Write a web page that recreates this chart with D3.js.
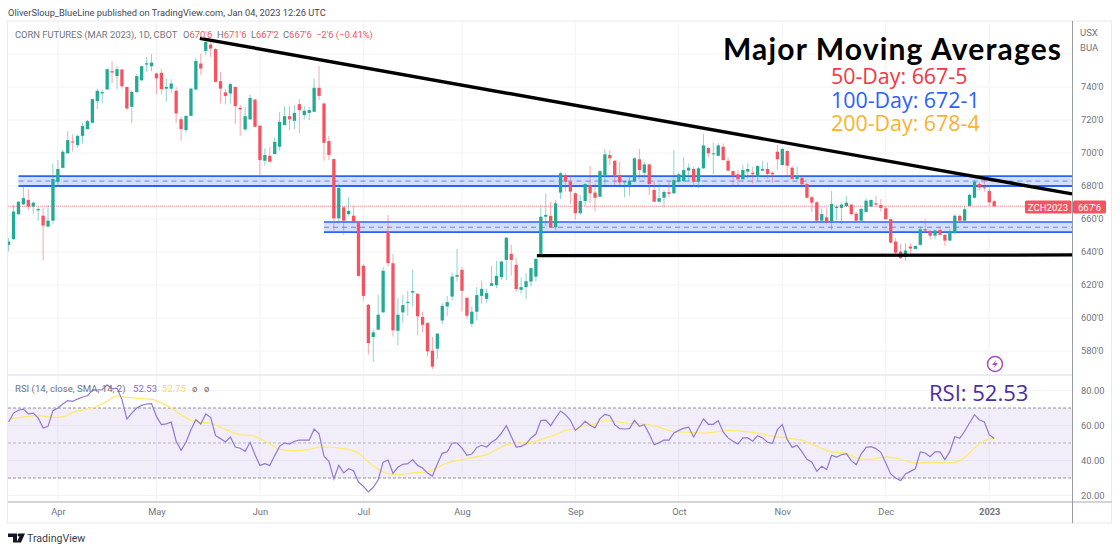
<!DOCTYPE html>
<html>
<head>
<meta charset="utf-8">
<script src="https://cdn.jsdelivr.net/npm/d3@7"></script>
<style>
    html, body { margin: 0; padding: 0; background: #fff; }
    svg { display: block; }
    text { font-family: Roboto, "Noto Sans", sans-serif; }
    .note { font-family: "Open Sans", sans-serif; }
    .title { font-family: Lato, sans-serif; letter-spacing: 1.15px; }
    .axis text { fill: #6f7380; font-size: 9.3px; font-family: Roboto, sans-serif; }
</style>
</head>
<body>
<svg id="chart" width="1120" height="552"></svg>
<script>
// candles, one per trading day
var opens = [644.3,647.8,662.9,668.9,671.5,667.5,665.3,662,655.4,659,682.6,691,699.8,707,704.8,710.4,714.5,718.3,731.4,736.1,
    738.5,749.6,746.6,750.6,740,728,736.9,744.1,753.6,752.6,748.2,748.6,739,739,737.7,720.5,713.9,722.5,738.5,754.2,
    761.9,765.7,763,743.5,736.7,736.1,740,727.4,714.3,720.4,732.4,716.5,695.3,698.3,699.4,703.8,716.9,722.3,719.5,729.6,
    723,724.3,725,739.5,730,707.2,696.3,660.4,667.1,663,662,658.4,631.6,608,588.5,592.9,603.4,652.4,633.2,592.3,
    603.4,609.2,615.4,614.7,600.6,596.9,580.2,581.4,598.5,607,613,625,629.2,612.2,596.5,603.8,613.4,611.6,619.5,619.9,
    624.8,635.2,638.9,632.2,617.1,618.7,622.1,625.1,638.9,661.4,661.9,655,676,686.2,682.6,675.6,663.5,670.9,680.6,676,
    673.5,686.7,698.8,695.3,686.7,682.2,680.2,682.6,696.2,688,693.1,677.6,670.5,672.9,676.2,675.6,682.6,683,689.3,690.3,
    682.6,690.7,703,699.2,698.3,703.8,695.3,689,687.1,684.1,688.7,688,685.6,689.3,690.3,688,700.8,692.7,701.2,691.1,
    684.2,685,681.2,673.2,670.1,659,661,658.4,666.7,666.7,667.7,668.7,663.2,659,664.3,667.5,669.5,668.5,666.5,659.9,
    646.3,640.3,636.9,643.3,641.9,644.3,653.8,652.8,649.9,653.4,650.4,646.9,651.4,661.9,659,667.9,672.9,681.2,679.2,677,
    670.75];
var highs = [648.4,668.5,670.8,680,678,670.5,667.5,666.7,668.5,693.7,695.7,702,713.3,711.3,711,718,720,733,739,738.5,
    751.2,755.6,752.6,751,740.3,737.5,747.8,753,758.2,759.9,748.6,751,745.2,744.7,739.7,722,722.8,739.5,757.9,760.3,
    769.3,767.5,763.4,749.2,739,742.5,740.4,729,727.8,735.5,732.7,716.9,702.8,703.8,709.5,725,728.4,728.4,729,732.6,
    728.4,728,745.2,752.8,730.6,710.3,696.7,681.6,667.5,673.2,668,658.8,632.8,608.5,592.9,614,630.8,662.4,638.7,612,
    614,616.5,629.2,615,603.6,597.5,588.5,590.9,609,613.4,627.5,641.9,630.8,612.6,607,618.7,622.7,617.7,631.6,634.6,
    634.6,649,644.3,636.3,624.5,627.2,630.6,636.2,668.5,675.6,670.5,671.5,688.5,687.7,686,676,674.6,681.6,692.1,681.6,
    689.6,702.4,701.8,695.7,694.7,683.2,686.7,697.4,702.4,694.7,693.4,683,681.6,677.6,682.6,701.8,688,697.4,693.7,691.7,
    691.7,711.5,703.5,706.4,706,705.8,697.4,689.7,689.7,692.7,693.9,691.7,692.7,695.3,694.3,689,704.8,703,702,692,
    692,686.5,682,674,671,666.5,666.5,677,668.5,670,674,669.2,664.5,666.6,672.6,672,674,672,667.9,660.3,
    648.4,644.9,645.3,645.3,643.9,655.4,659.8,653.4,653.6,655.4,650.9,653.8,662.8,662.8,667.9,675.2,683.4,682,685,680.6,
    671.75];
var lows = [640.3,647.3,662.5,668.5,665.5,663,659,634.8,655,656.8,679.6,691,699.8,700.8,703.2,705.8,714.5,718.3,726.6,730,
    738.2,742.3,738.7,739,726,718.3,736.5,743.5,749.2,749.6,735.7,735.5,731,736.3,718.3,707.4,712.2,722.2,738.2,747.2,
    759.3,758.2,742.8,730,729.4,730,717.5,710.4,713.5,720,715.5,686.7,692.3,694.3,699.2,701.4,716.7,713.9,714.3,711.9,
    720.4,720,724.8,732,695.3,695.7,651.4,657.4,650.4,661.4,657.6,625.3,610.6,577.8,573.3,592.7,603.2,631.2,588.8,583.4,
    597,601.5,607,589.4,591.2,576.7,569,575.3,596.3,601.3,610.6,622.1,604,599.4,594.7,598.5,608.6,609,619.3,618.1,
    623.1,623.1,625.7,615.7,614.7,611.4,619.1,622.1,638.6,655.8,654.8,653,672,676.6,669.1,659.8,662.5,667.9,669.5,664.5,
    673.2,680.6,692.7,680.6,680.6,673.2,674,682.2,684,684.7,674.6,670.3,670.2,667.1,673.2,675.3,682.2,682.6,683,679.6,
    679,690.3,697.4,687.1,698,695.5,689,680.2,680.2,683.6,684.7,681.6,683.2,689.2,684.7,682,689.7,692.5,685.3,684,
    684,680.6,672.4,664,658.6,658.7,656.8,653.4,659.4,657,667.4,662.5,658.6,658.6,664,667,668.2,664.5,659.5,645.3,
    638.8,635.7,634.6,637.2,641.5,643.9,651.7,647.8,647.8,650,643.7,646.7,651,658.6,658.6,667.5,672.5,677.2,676.6,667.9,
    667.25];
var closes = [646.3,664.5,670.5,672.6,667.5,669.9,666.1,656,659,684.2,690.3,700.8,707.8,706.6,710.4,716.3,719.3,732.6,737.7,736.9,
    750.8,748.8,750.8,740.5,727,737,746.6,752.6,754.4,754.8,745.2,738.7,740,742.1,724,714.5,722.5,739,755.8,751.2,
    767.3,763.3,743.1,739,734.6,741.7,728.4,726.4,722.3,733.4,715.9,695.7,698.8,694.7,706.8,718.9,722.3,720.4,724.3,726,
    725.6,726,739.5,734.6,706.2,698.8,660.4,678.8,659,664.9,658.4,625.5,613.4,584.8,591.3,602,628.6,633.2,592.5,602,
    607.8,609.8,616.3,601,595.9,579.8,570.5,590.5,607.4,609.6,625.1,626,616.5,601.4,603.8,613.9,617.7,615.1,621.1,625.5,
    634.2,648.7,635.2,617.5,618.7,622.3,630.2,635.8,661.4,662.5,655,669.5,687.7,682.6,676.6,663.5,670.9,681.2,675.6,672.9,
    689,699.2,696.8,686.7,682.2,683,683.2,696.8,689.7,693.1,681.2,670.5,672.6,676.4,675.3,683.6,687.1,689.7,691.1,682.6,
    690.7,704.6,699.8,699.8,704.6,695.7,689.3,686.2,684.1,689.7,690.3,687.1,692.1,690.3,687.3,687.1,696.2,702.4,692.3,684.2,
    686,681,672.9,669.9,659,663,658,669.1,667.5,668.7,669.9,662.9,659,666.1,671.1,671.5,668.7,666.7,659.9,645.7,
    639.6,636.3,640.9,642.1,643.7,653.8,653,649.9,653,650.4,646.9,652.4,662,659,665.9,674.6,682.6,679,678.6,670.1,
    667.75];

// rsi, same days as the candles
var rsiValues = [62,67.1,68.7,69.4,66.6,67.1,64.3,58.6,59.5,68.5,70,72.3,74.2,73.8,75.1,76.3,77,80.1,80.3,80.5,
    83.3,81,81.4,74.8,63.7,67.1,70,71.5,72.3,72.5,65.2,60.5,60.9,62,51,45.8,50.4,57.6,63.3,60.9,
    66.6,64.7,54.2,52.5,50.6,53.4,47.7,47,45.2,50.4,43.3,37.2,38.2,37.2,42.8,48.1,50,49.4,51,51.7,
    51.7,51.7,58,55.3,42.4,39.5,29.4,37.2,32.9,35.3,34.2,27.7,25.2,22,24.7,29,39.1,40.3,32.7,36.1,
    37.8,38.2,40.5,37.2,35.7,32.9,31.1,38,44.1,45,50,50,47.1,43,43.7,47.5,48.7,47.7,50.4,52.3,
    55.7,59.9,53.8,47.7,48.1,49.4,52.9,55.1,62.8,63.1,59.9,64.3,68.3,66.2,63,57.2,59.5,62.4,60.1,58.6,
    63.9,66.4,65.6,60.5,58.2,58,58.2,63,59.5,60.5,55.1,49,50.2,51.7,51.7,55.7,57.2,58.4,59.1,53.4,
    58.6,63.7,60.7,60.7,62.8,56.3,52.9,51,49.4,52.9,52.9,51,54.2,52.9,50.4,49.8,57.6,60.5,51.9,47.5,
    48.7,44.9,40.7,39,33.8,36.7,34.8,43,42,43.3,43.9,39.9,37.6,43.7,47.5,47.9,46.8,44.7,38.6,32.3,
    30,28.5,32.3,33.8,35.3,44.9,44.3,42.2,45,44.9,40.5,45.2,53.6,52.7,56.7,61.4,66.2,63.1,62,54.8,
    52.53];

// rsi moving average, read at the days where it bends
var smaDays = [0,3,6,9,11,13,16,18,20,22,24,27,29,31,33,35,37,39,41,43,45,47,49,51,53,55,58,61,63,65,68,71,73,75,77,79,82,85,87,89,
    92,95,97,99,101,103,105,107,109,111,113,115,117,119,121,123,126,129,132,135,138,141,144,146,149,152,155,158,161,164,167,170,172,175,178,180,183,185,187,190,
    192,194,196,198,200];
var smaValues = [63.3,64.9,65.6,64.7,65,67.5,69.4,71,73.8,76.9,76.1,75.3,75,72.9,70,66.2,63,61.8,61.2,59,56.7,54.6,54.4,52.5,49.4,46.4,45.6,46.2,47.7,47.7,46.8,44.3,39.1,35.1,32.5,31.9,32.9,33.6,36.1,38.6,
    40.5,42,43.3,46.2,49,49.8,50,51,52.9,54.8,57.4,58,59.9,61,62.8,62.4,61.2,60.9,59,56.5,56.1,55.7,56.5,57.2,56.7,55.7,53.8,52.9,51.5,48.1,45,44.1,41.4,40.7,42,41.4,39.1,38.6,39.1,38.6,
    39,41.8,47.1,51.3,52.75];

var monthDays = [10,30,51,72,92,115,136,157,178,199];
var monthLabels = ["Apr","May","Jun","Jul","Aug","Sep","Oct","Nov","Dec","2023"];
var priceTicks = [580,600,620,640,660,680,700,720,740];
var gridPrices = priceTicks.concat([760]);
var rsiTicks = [20,40,60,80];

// drawings on the chart, in day / price terms
var lastDay = 215.8;
var bandDays = [2, 64];
var bandTops = [686, 658.2];
var bandMids = [683, 655];
var bandBottoms = [680, 652.1];
var trendDays = [38.8, lastDay];
var trendPrices = [769.5, 675.2];
var supportDays = [107.2, lastDay];
var supportPrices = [637.8, 638.2];
var lastPrice = 667.75;

var notes = [
    ["50-Day: 667-5", "#f23645"],
    ["100-Day: 672-1", "#2962ff"],
    ["200-Day: 678-4", "#f9b32b"]
];

var green = "#22ab94", red = "#f7525f", grayText = "#6f7380";
var left = 8, right = 1072.5, outerRight = 1112;
var top1 = 21, bottom1 = 375, bottom2 = 502, bottom3 = 523;

var svg = d3.select("#chart");

var x = d3.scaleLinear().domain([0, 200]).range([8.6, 994.2]);
var y = d3.scaleLinear().domain([580, 740]).range([351, 87]);
var yRsi = d3.scaleLinear().domain([20, 80]).range([495.5, 390.5]);

var days = d3.range(opens.length);

// grid
var grid = svg.append("g").attr("stroke", "#f2f3f8").attr("stroke-width", 1);
grid.selectAll("line.v").data(monthDays).enter().append("line").attr("class", "v")
    .attr("x1", function (d) { return x(d); }).attr("x2", function (d) { return x(d); })
    .attr("y1", top1).attr("y2", bottom2);
grid.selectAll("line.p").data(gridPrices).enter().append("line").attr("class", "p")
    .attr("x1", left).attr("x2", right)
    .attr("y1", function (d) { return y(d); }).attr("y2", function (d) { return y(d); });

// rsi band under the grid lines of the lower pane
svg.append("rect")
    .attr("x", left).attr("width", right - left)
    .attr("y", yRsi(70)).attr("height", yRsi(30) - yRsi(70))
    .attr("fill", "#7e57c2").attr("fill-opacity", 0.1);
grid.selectAll("line.r").data(rsiTicks).enter().append("line").attr("class", "r")
    .attr("x1", left).attr("x2", right)
    .attr("y1", function (d) { return yRsi(d); }).attr("y2", function (d) { return yRsi(d); });

[70, 50, 30].forEach(function (level) {
    svg.append("line")
        .attr("x1", left).attr("x2", right)
        .attr("y1", yRsi(level)).attr("y2", yRsi(level))
        .attr("stroke", "#787b86").attr("stroke-opacity", level == 50 ? 0.5 : 0.8)
        .attr("stroke-dasharray", "3,2");
});

// blue zones
var zones = svg.append("g");
bandDays.forEach(function (d, i) {
    var x0 = x(d), x1 = x(lastDay);
    zones.append("rect").attr("x", x0).attr("width", x1 - x0)
        .attr("y", y(bandTops[i])).attr("height", y(bandBottoms[i]) - y(bandTops[i]))
        .attr("fill", "#2962ff").attr("fill-opacity", 0.2);
    zones.append("line").attr("x1", x0).attr("x2", x1)
        .attr("y1", y(bandTops[i])).attr("y2", y(bandTops[i]))
        .attr("stroke", "#2962ff").attr("stroke-width", 1.6);
    zones.append("line").attr("x1", x0).attr("x2", x1)
        .attr("y1", y(bandBottoms[i])).attr("y2", y(bandBottoms[i]))
        .attr("stroke", "#2962ff").attr("stroke-width", 1.8);
    zones.append("line").attr("x1", x0).attr("x2", x1)
        .attr("y1", y(bandMids[i])).attr("y2", y(bandMids[i]))
        .attr("stroke", "#2962ff").attr("stroke-opacity", 0.7).attr("stroke-dasharray", "5,4");
});

// last price line
svg.append("line")
    .attr("x1", left).attr("x2", right)
    .attr("y1", y(lastPrice)).attr("y2", y(lastPrice))
    .attr("stroke", red).attr("stroke-opacity", 0.7).attr("stroke-dasharray", "1,1");

// candles
var candles = svg.append("g");
candles.selectAll("line").data(days).enter().append("line")
    .attr("x1", function (i) { return x(i); }).attr("x2", function (i) { return x(i); })
    .attr("y1", function (i) { return y(highs[i]); }).attr("y2", function (i) { return y(lows[i]); })
    .attr("stroke", function (i) { return closes[i] >= opens[i] ? green : red; })
    .attr("stroke-opacity", 0.5).attr("stroke-width", 1);
candles.selectAll("rect").data(days).enter().append("rect")
    .attr("x", function (i) { return x(i) - 1.65; }).attr("width", 3.3)
    .attr("y", function (i) { return y(Math.max(opens[i], closes[i])); })
    .attr("height", function (i) { return Math.max(1, Math.abs(y(opens[i]) - y(closes[i]))); })
    .attr("fill", function (i) { return closes[i] >= opens[i] ? green : red; });

// black trend lines
var drawLine = d3.line()
    .x(function (d) { return x(d[0]); })
    .y(function (d) { return y(d[1]); });
svg.append("path").attr("d", drawLine(d3.zip(trendDays, trendPrices)))
    .attr("fill", "none").attr("stroke", "#000").attr("stroke-width", 3.4);
svg.append("path").attr("d", drawLine(d3.zip(supportDays, supportPrices)))
    .attr("fill", "none").attr("stroke", "#000").attr("stroke-width", 3.2);

// rsi lines
var smaLine = d3.line()
    .x(function (d) { return x(d[0]); })
    .y(function (d) { return yRsi(d[1]); })
    .curve(d3.curveMonotoneX);
svg.append("path").attr("d", smaLine(d3.zip(smaDays, smaValues)))
    .attr("fill", "none").attr("stroke", "#ffeb6b").attr("stroke-width", 1.3);
var rsiLine = d3.line()
    .x(function (i) { return x(i); })
    .y(function (i) { return yRsi(rsiValues[i]); });
svg.append("path").attr("d", rsiLine(days))
    .attr("fill", "none").attr("stroke", "#9378cf").attr("stroke-width", 1.2);

// pane frame
var frame = svg.append("g").attr("fill", "none");
frame.append("rect").attr("x", left - 0.5).attr("y", top1).attr("width", outerRight - left).attr("height", bottom3 - top1)
    .attr("stroke", "#e9eaf2").attr("stroke-width", 1);
frame.append("line").attr("x1", left).attr("x2", right).attr("y1", bottom1).attr("y2", bottom1)
    .attr("stroke", "#e6e7ee").attr("stroke-width", 1.5);
frame.append("line").attr("x1", left).attr("x2", outerRight).attr("y1", bottom2).attr("y2", bottom2)
    .attr("stroke", "#c4c5cb").attr("stroke-width", 1.5);
frame.append("line").attr("x1", right).attr("x2", right).attr("y1", top1).attr("y2", bottom3)
    .attr("stroke", "#9a9ca5").attr("stroke-width", 1);

// axes
var timeAxis = svg.append("g").attr("class", "axis")
    .attr("transform", "translate(0," + (bottom2 + 3) + ")")
    .call(d3.axisBottom(x).tickValues(monthDays).tickSize(0)
        .tickFormat(function (d, i) { return monthLabels[i]; }));
timeAxis.select(".domain").remove();
timeAxis.selectAll("text").attr("font-weight", function (d, i) { return monthLabels[i] == "2023" ? 700 : 400; });

var priceAxis = svg.append("g").attr("class", "axis")
    .attr("transform", "translate(" + (right + 5.5) + ",0)")
    .call(d3.axisRight(y).tickValues(priceTicks).tickSize(0)
        .tickFormat(function (d) { return d + "'0"; }));
priceAxis.select(".domain").remove();

var rsiAxis = svg.append("g").attr("class", "axis")
    .attr("transform", "translate(" + (right + 5.5) + ",0)")
    .call(d3.axisRight(yRsi).tickValues(rsiTicks).tickSize(0)
        .tickFormat(d3.format(".2f")));
rsiAxis.select(".domain").remove();

// currency box at the top of the scale
svg.append("text").attr("x", 1080).attr("y", 35.5).attr("fill", grayText).attr("font-size", 9.5).text("USX");
svg.append("text").attr("x", 1080).attr("y", 51).attr("fill", grayText).attr("font-size", 9.5).text("BUA");

// last price labels
svg.append("rect").attr("x", 1025).attr("y", 200.5).attr("width", 46.5).attr("height", 13).attr("rx", 1.5).attr("fill", red);
svg.append("text").attr("x", 1048).attr("y", 210.5).attr("text-anchor", "middle").attr("fill", "#fff").attr("font-size", 9.6).text("ZCH2023");
svg.append("rect").attr("x", right + 0.5).attr("y", 200.5).attr("width", 33).attr("height", 13).attr("rx", 1.5).attr("fill", red);
svg.append("text").attr("x", right + 17).attr("y", 210.5).attr("text-anchor", "middle").attr("fill", "#fff").attr("font-size", 9.6).text("667'6");

// header
svg.append("text").attr("x", 8).attr("y", 16).attr("fill", "#444751").attr("font-size", 9.3)
    .text("OliverSloup_BlueLine published on TradingView.com, Jan 04, 2023 12:26 UTC");
svg.append("text").attr("x", 15).attr("y", 37.5).attr("fill", grayText).attr("font-size", 9.4)
    .text("CORN FUTURES (MAR 2023), 1D, CBOT");

var ohlc = [["O", "670'6", 183], ["H", "671'6", 217], ["L", "667'2", 251], ["C", "667'6", 283]];
ohlc.forEach(function (d) {
    var t = svg.append("text").attr("x", d[2]).attr("y", 37.5).attr("font-size", 9.4);
    t.append("tspan").attr("fill", grayText).text(d[0]);
    t.append("tspan").attr("fill", red).text(d[1]);
});
svg.append("text").attr("x", 316).attr("y", 37.5).attr("fill", red).attr("font-size", 9.4).text("\u22122'6 (\u22120.41%)");

// rsi legend
svg.append("text").attr("x", 15).attr("y", 391.5).attr("fill", grayText).attr("font-size", 9.6).text("RSI (14, close, SMA, 14, 2)");
svg.append("text").attr("x", 133).attr("y", 391.5).attr("fill", "#8c6ccb").attr("font-size", 9.6).text("52.53");
svg.append("text").attr("x", 162).attr("y", 391.5).attr("fill", "#f5dc5a").attr("font-size", 9.6).text("52.75");
svg.append("text").attr("x", 192).attr("y", 391.5).attr("fill", grayText).attr("font-size", 9.6).text("\u00f8");
svg.append("text").attr("x", 204).attr("y", 391.5).attr("fill", grayText).attr("font-size", 9.6).text("\u00f8");

// big notes
svg.append("text").attr("class", "title").attr("x", 723).attr("y", 59.5).attr("fill", "#000")
    .attr("font-size", 30).attr("font-weight", 700).text("Major Moving Averages");
var noteY = [83.5, 108, 130.5];
notes.forEach(function (d, i) {
    svg.append("text").attr("class", "note").attr("x", 831).attr("y", noteY[i])
        .attr("fill", d[1]).attr("font-size", 21.4).text(d[0]);
});
svg.append("text").attr("class", "note").attr("x", 929).attr("y", 401).attr("fill", "#4a2da6")
    .attr("font-size", 22).text("RSI: 52.53");

// lightning badge
svg.append("circle").attr("cx", 995).attr("cy", 364).attr("r", 7.5)
    .attr("fill", "#fff").attr("stroke", "#a84db5").attr("stroke-width", 1.5);
svg.append("path").attr("d", "M996.5 359.5 L992 365 L995 365 L993.5 368.5 L998 363 L995 363 Z").attr("fill", "#a84db5");

// logo
svg.append("path").attr("d", "M8 533.5 H17 V542.5 H13 V537 H8 Z M18.5 533.5 H25 L21 542.5 H16.5 L19.5 536.5 A1.6 1.6 0 0 1 18.5 533.5 Z")
    .attr("fill", "#131722");
svg.append("text").attr("x", 27).attr("y", 542).attr("fill", "#3a3e4a").attr("font-size", 10.6).text("TradingView");
</script>
</body>
</html>
